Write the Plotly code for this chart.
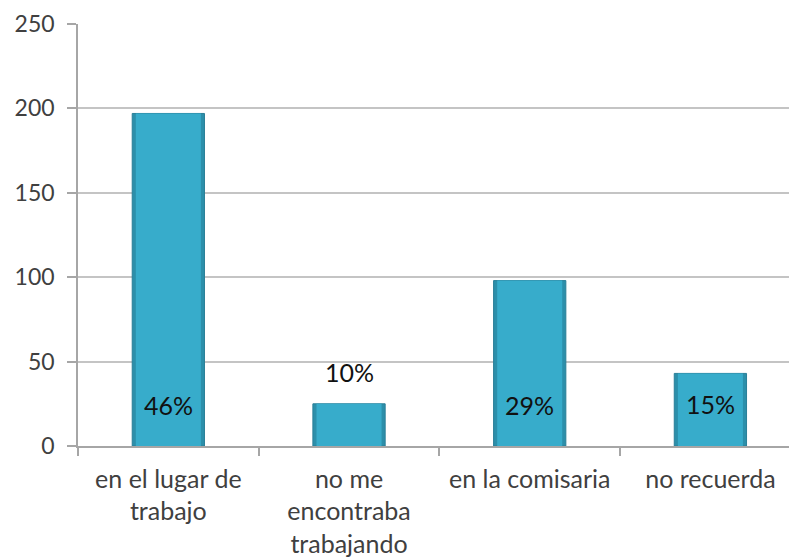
import plotly.graph_objects as go

# Categories and counts
categories = ["en el lugar de<br>trabajo", "no me<br>encontraba<br>trabajando",
              "en la comisaria", "no recuerda"]
counts = [197, 25, 98, 43]
shares = ["46%", "10%", "29%", "15%"]

y_ticks = [0, 50, 100, 150, 200, 250]

# vertical placement of the share labels (axis units)
label_y = [24, 44, 24, 25]

font_family = "Lato, 'Liberation Sans', sans-serif"

fig = go.Figure()

# darker rim
fig.add_trace(go.Bar(
    x=categories, y=counts, width=0.40,
    marker=dict(color="#2C8FAA", line=dict(color="#2A7F98", width=1)),
    hoverinfo="skip", showlegend=False,
))
# lighter face
fig.add_trace(go.Bar(
    x=categories, y=counts, width=0.36,
    marker=dict(color="#37ACCB", line=dict(width=0)),
    showlegend=False,
))

for cat, txt, ly in zip(categories, shares, label_y):
    fig.add_annotation(x=cat, y=ly, text=txt, showarrow=False,
                       font=dict(family=font_family, size=25, color="#111111"))

fig.update_layout(
    width=789, height=560,
    margin=dict(l=78, r=0, t=24, b=114),
    paper_bgcolor="white", plot_bgcolor="white",
    barmode="overlay",
    font=dict(family=font_family, size=21, color="#404040"),
)

fig.update_xaxes(
    type="category",
    range=[-0.5, 3.435],
    automargin=False,
    tickson="boundaries",
    ticks="outside", ticklen=8, tickcolor="#A6A6A6", tickwidth=1.5,
    showline=True, linecolor="#A6A6A6", linewidth=1.5,
    showgrid=False,
    ticklabelstandoff=10,
    tickfont=dict(family=font_family, size=25, color="#404040"),
)
fig.update_yaxes(
    range=[0, 250],
    tickvals=y_ticks,
    automargin=False,
    ticks="outside", ticklen=9, tickcolor="#A6A6A6", tickwidth=1.5,
    showline=True, linecolor="#A6A6A6", linewidth=1.5,
    showgrid=True, gridcolor="#C4C4C4", gridwidth=1.5,
    zeroline=False,
    ticklabelstandoff=8,
    tickfont=dict(size=23, color="#404040"),
)

fig.write_html("out.html")
